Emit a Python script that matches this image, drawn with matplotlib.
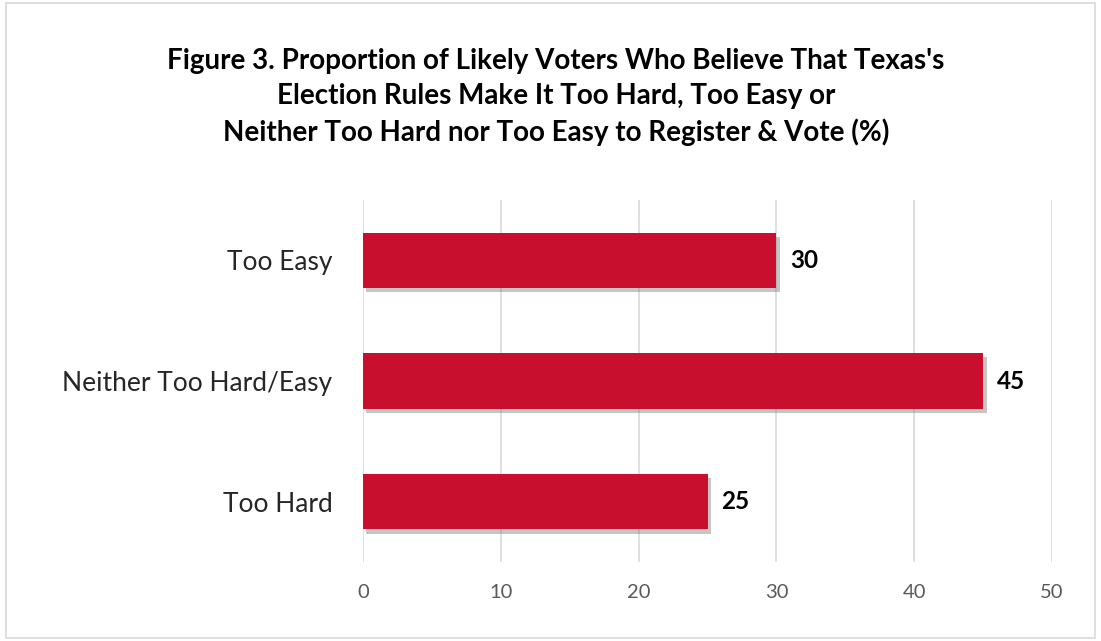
import matplotlib.pyplot as plt
import matplotlib.patheffects as pe
from matplotlib.patches import Rectangle

categories = ["Too Hard", "Neither Too Hard/Easy", "Too Easy"]
values = [25, 45, 30]
ticks = [0, 10, 20, 30, 40, 50]
title = ("Figure 3. Proportion of Likely Voters Who Believe That Texas's\n"
         "Election Rules Make It Too Hard, Too Easy or\n"
         "Neither Too Hard nor Too Easy to Register & Vote (%)")

plt.rcParams['font.family'] = ['Lato', 'DejaVu Sans']

fig = plt.figure(figsize=(11.01, 6.41), dpi=100)
fig.patches.append(Rectangle((0.005, 0.005), 0.99, 0.99, transform=fig.transFigure,
                             fill=False, edgecolor='#d9d9d9', linewidth=1.2))

ax = fig.add_axes([0.3297, 0.1232, 0.6258, 0.5648])
bars = ax.barh(range(len(categories)), values, height=0.46, color='#C8102E', zorder=3)
for b in bars:
    b.set_path_effects([pe.SimplePatchShadow(offset=(2.5, -3), shadow_rgbFace='#7f7f7f', alpha=0.45),
                        pe.Normal()])

for i, v in enumerate(values):
    ax.text(v + 1.0, i, str(v), va='center', ha='left', fontsize=17.5,
            fontweight='bold', color='black')

ax.set_xlim(0, 50)
ax.set_ylim(-0.5, 2.5)
ax.set_xticks(ticks)
ax.set_yticks(range(len(categories)))
ax.set_yticklabels(categories, fontsize=19, color='#262626')
ax.tick_params(axis='x', labelsize=14.5, colors='#595959', length=0, pad=16)
ax.tick_params(axis='y', length=0, pad=22)
ax.grid(axis='x', color='#d9d9d9', linewidth=1.2, zorder=0)
ax.set_axisbelow(True)
for s in ax.spines.values():
    s.set_visible(False)

fig.text(0.505, 0.925, title, ha='center', va='top', fontsize=20,
         fontweight='bold', color='black', linespacing=1.42)

fig.savefig('out.png', dpi=100)
